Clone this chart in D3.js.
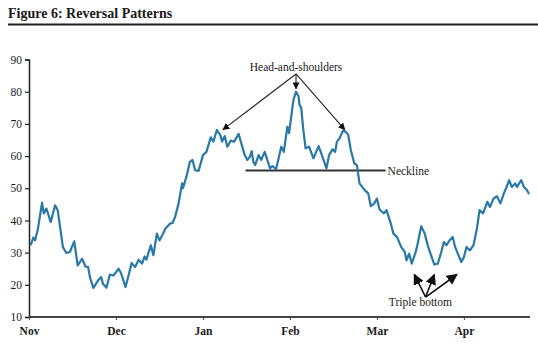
<!DOCTYPE html>
<html><head><meta charset="utf-8">
<script src="https://cdn.jsdelivr.net/npm/d3@7"></script>
<style>
html,body{margin:0;padding:0;background:#fff;}
text{font-family:"Liberation Serif","DejaVu Serif",serif;fill:#1a1a1a;}
</style></head>
<body><svg id="chart" width="538" height="350"></svg>
<script>
// month position (0 = Nov 1, 1 = Dec 1, ...) and price
const monthPos = [0.02,0.05,0.07,0.10,0.15,0.17,0.20,0.25,0.30,0.33,0.39,0.43,0.47,0.52,0.56,0.61,0.65,0.68,0.70,0.74,0.80,0.83,0.85,0.89,0.93,0.97,1.00,1.03,1.06,1.11,1.14,1.18,1.22,1.26,1.30,1.33,1.35,1.40,1.43,1.47,1.50,1.54,1.57,1.62,1.65,1.68,1.72,1.76,1.77,1.81,1.85,1.88,1.91,1.95,2.00,2.04,2.09,2.12,2.16,2.20,2.22,2.25,2.28,2.32,2.36,2.41,2.43,2.48,2.51,2.54,2.56,2.58,2.60,2.64,2.67,2.71,2.75,2.77,2.80,2.84,2.87,2.90,2.93,2.97,2.99,3.04,3.07,3.10,3.11,3.13,3.15,3.18,3.22,3.27,3.33,3.36,3.42,3.45,3.49,3.52,3.54,3.57,3.61,3.64,3.67,3.70,3.74,3.77,3.80,3.86,3.90,3.93,3.97,4.00,4.03,4.08,4.11,4.16,4.19,4.23,4.28,4.32,4.34,4.37,4.40,4.44,4.46,4.51,4.55,4.59,4.63,4.66,4.70,4.74,4.77,4.80,4.83,4.87,4.90,4.93,4.97,5.00,5.03,5.07,5.11,5.15,5.18,5.22,5.27,5.30,5.34,5.38,5.42,5.46,5.50,5.52,5.55,5.59,5.61,5.66,5.69,5.72,5.75];
const price = [32.3,34.7,33.8,37,45.5,42.2,43.7,39.5,44.7,43.2,31.7,29.9,30.2,33.5,26,28.1,25.7,25.5,22.4,19,21.6,22.4,20.3,19.1,23.2,22.9,23.9,25,23.5,19.3,22.4,26.8,25.5,27.8,26.6,28.8,27.8,32.3,29.2,35.9,33.8,35.9,37.5,39,39.2,41.1,45.3,51.5,50,53.6,58.2,58.8,55.6,55.4,60.3,61.3,65.8,64.5,68.1,66.5,64.5,66.2,62.9,64.8,64.5,66.9,65,60.3,58.8,59.8,61.5,58.2,57.2,60.3,58.8,61.3,58,56.2,56.9,55.9,59.3,62.9,61.3,69.1,67.1,77.4,80,78.5,75.9,75,69.1,62.4,62.9,59.3,63.1,60.8,56.2,60.3,62.1,61.3,64.5,65.5,67.9,67.6,66.6,61.9,57.7,57.2,51.5,49.4,48.4,44.4,45.3,46.8,43.4,42.2,43.2,39,35.9,34.9,31.7,30.2,27.6,29.7,26.6,29.7,31.7,38.2,35.9,31.7,28.6,26.3,26.6,30.2,33.3,32.3,33.6,34.9,31.7,29.7,27.1,28.6,31.7,30.7,32.3,37.5,43.2,42.2,45.8,44.2,46.8,47.5,45.3,48.4,51,52.5,50.4,51.5,50.4,52.5,50.4,49.6,48.2];
const monthLabels = ["Nov","Dec","Jan","Feb","Mar","Apr"];
const yTicks = [10,20,30,40,50,60,70,80,90];
const necklineLevel = 55.5, necklineFrom = 2.49, necklineTo = 4.1;
const title = "Figure 6: Reversal Patterns";
// annotation anchors in data units
const hsLabel = {m:3.07, v:88.3, text:"Head-and-shoulders"};
const hsTargets = [{m:2.23,v:68.2},{m:3.07,v:80.9},{m:3.63,v:68.2}];
const tbLabel = {m:4.5, text:"Triple bottom"};
const tbOrigin = {m:4.56, v:16.2};
const tbTargets = [{m:4.43,v:23.2},{m:4.66,v:23.2},{m:4.92,v:23.2}];

const svg = d3.select("#chart");
const x = d3.scaleLinear().domain([0,5.76]).range([29,530]);
const y = d3.scaleLinear().domain([10,90]).range([317,59.5]);

// title
svg.append("text").attr("x",8).attr("y",18).attr("font-size",14).attr("font-weight","bold").text(title);
svg.append("line").attr("x1",8).attr("x2",538).attr("y1",24.5).attr("y2",24.5).attr("stroke","#222").attr("stroke-width",2);

// y axis
const ya = svg.append("g").attr("transform","translate(29,0)")
  .call(d3.axisLeft(y).tickValues(yTicks).tickSize(4).tickPadding(3).tickFormat(d3.format("d")));
ya.select(".domain").attr("stroke","#222").attr("stroke-width",1.5);
ya.selectAll(".tick line").attr("stroke","#222").attr("stroke-width",1.2);
ya.selectAll("text").attr("font-size",11.5).attr("fill","#1a1a1a").style("font-family","Liberation Serif, serif");

// x axis
const xa = svg.append("g").attr("transform","translate(0,317)")
  .call(d3.axisBottom(x).tickValues(d3.range(monthLabels.length)).tickSize(3).tickPadding(7).tickFormat(i=>monthLabels[i]));
xa.select(".domain").attr("stroke","#444").attr("stroke-width",2).attr("d",`M29,0H530`);
xa.selectAll(".tick line").attr("stroke","#444").attr("stroke-width",1);
xa.selectAll("text").attr("font-size",11.5).attr("font-weight","bold").attr("fill","#1a1a1a").style("font-family","Liberation Serif, serif");

// neckline
svg.append("line").attr("x1",x(necklineFrom)).attr("x2",x(necklineTo))
  .attr("y1",y(necklineLevel)).attr("y2",y(necklineLevel)).attr("stroke","#333").attr("stroke-width",2);
svg.append("text").attr("x",x(necklineTo)+2).attr("y",y(necklineLevel)+4).attr("font-size",11.5).text("Neckline");

// price line
const pts = monthPos.map((m,i)=>[m,price[i]]);
svg.append("path").datum(pts).attr("fill","none").attr("stroke","#2878a8").attr("stroke-width",2.2)
  .attr("stroke-linejoin","round")
  .attr("d",d3.line().x(d=>x(d[0])).y(d=>y(d[1])));

// arrow markers
const defs = svg.append("defs");
defs.append("marker").attr("id","ah").attr("viewBox","0 0 10 10").attr("refX",9).attr("refY",5)
  .attr("markerWidth",7).attr("markerHeight",7).attr("markerUnits","userSpaceOnUse").attr("orient","auto")
  .append("path").attr("d","M0,0L10,5L0,10z").attr("fill","#111");
defs.append("marker").attr("id","ah2").attr("viewBox","0 0 10 10").attr("refX",9).attr("refY",5)
  .attr("markerWidth",11).attr("markerHeight",11).attr("markerUnits","userSpaceOnUse").attr("orient","auto")
  .append("path").attr("d","M0,0L10,5L0,10z").attr("fill","#111");

// head-and-shoulders
svg.append("text").attr("x",x(hsLabel.m)).attr("y",y(hsLabel.v)+6).attr("text-anchor","middle").attr("font-size",11.5).text(hsLabel.text);
hsTargets.forEach(t=>{
  svg.append("line").attr("x1",x(hsLabel.m)).attr("y1",y(hsLabel.v)+9)
    .attr("x2",x(t.m)).attr("y2",y(t.v)).attr("stroke","#222").attr("stroke-width",1.1).attr("marker-end","url(#ah)");
});

// triple bottom
svg.append("text").attr("x",x(tbLabel.m)).attr("y",306).attr("text-anchor","middle").attr("font-size",11.5).text(tbLabel.text);
tbTargets.forEach(t=>{
  svg.append("line").attr("x1",x(tbOrigin.m)).attr("y1",y(tbOrigin.v))
    .attr("x2",x(t.m)).attr("y2",y(t.v)).attr("stroke","#111").attr("stroke-width",1.6).attr("marker-end","url(#ah2)");
});
</script></body></html>
